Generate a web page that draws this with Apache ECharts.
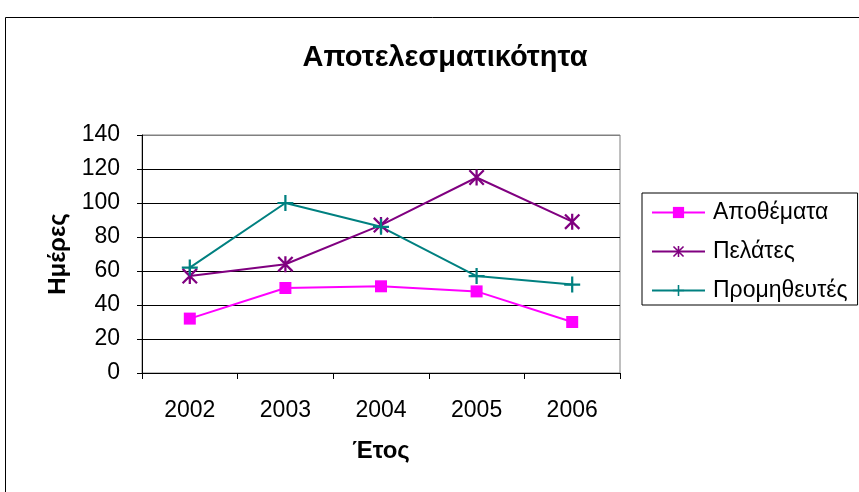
<!DOCTYPE html>
<html>
<head>
<meta charset="utf-8">
<script src="https://cdn.jsdelivr.net/npm/echarts@6/dist/echarts.min.js"></script>
<style>
  html, body { margin: 0; padding: 0; background: #fff; }
  #chart { width: 859px; height: 492px; }
</style>
</head>
<body>
<div id="chart"></div>
<script>
// Years on the category axis
const years = ['2002', '2003', '2004', '2005', '2006'];

// Days per year for each indicator
const inventory = [32, 50, 51, 48, 30];   // Αποθέματα
const customers = [57, 64, 87, 115, 89];  // Πελάτες
const suppliers = [62, 100, 86, 57, 52];  // Προμηθευτές

const seriesNames = ['Αποθέματα', 'Πελάτες', 'Προμηθευτές'];

// Value axis ticks
const yTicks = [0, 20, 40, 60, 80, 100, 120, 140];

const FONT = '"Liberation Sans", Arial, sans-serif';

// Marker shapes drawn as filled paths
const plusPath = 'path://M43,0 L57,0 L57,43 L100,43 L100,57 L57,57 L57,100 L43,100 L43,57 L0,57 L0,43 L43,43 Z';
const starPath = 'path://M43,0 L57,0 L57,100 L43,100 Z M0,10 L10,0 L100,90 L90,100 Z M90,0 L100,10 L10,100 L0,90 Z';

const chart = echarts.init(document.getElementById('chart'), null, { renderer: 'canvas' });

// top grid line sits on the plot frame, which is grey
const splitColors = yTicks.map((v, i) => (i === yTicks.length - 1 ? '#808080' : '#000000'));

chart.setOption({
  animation: false,
  backgroundColor: '#ffffff',
  title: {
    text: 'Αποτελεσματικότητα',
    left: 440,
    textAlign: 'center',
    top: 38,
    textStyle: { fontFamily: FONT, fontSize: 29, fontWeight: 'bold', color: '#000' }
  },
  graphic: [{
    type: 'rect',
    shape: { x: 5.5, y: 17.5, width: 900, height: 500 },
    style: { fill: 'none', stroke: '#000', lineWidth: 1 },
    silent: true,
    z: -1
  }],
  legend: {
    orient: 'vertical',
    left: 642,
    top: 193,
    padding: [8, 10, 3, 9],
    itemGap: 16,
    itemWidth: 53,
    itemHeight: 14,
    borderColor: '#000',
    borderWidth: 1,
    textStyle: { fontFamily: FONT, fontSize: 23, lineHeight: 23, color: '#000', padding: [0, 0, 0, 3] },
    data: seriesNames
  },
  grid: {
    left: 142,
    right: 239,
    top: 135,
    bottom: 119,
    show: true,
    borderColor: '#808080',
    borderWidth: 1,
    containLabel: false
  },
  xAxis: {
    type: 'category',
    data: years,
    boundaryGap: true,
    name: 'Έτος',
    nameLocation: 'middle',
    nameGap: 66,
    nameTextStyle: { fontFamily: FONT, fontSize: 24, fontWeight: 'bold', color: '#000' },
    axisLine: { show: true, lineStyle: { color: '#000', width: 1 } },
    axisTick: { show: true, alignWithLabel: false, length: 6, inside: false, lineStyle: { color: '#000' } },
    axisLabel: { fontFamily: FONT, fontSize: 23, color: '#000', margin: 26 },
    splitLine: { show: false }
  },
  yAxis: {
    type: 'value',
    min: yTicks[0],
    max: yTicks[yTicks.length - 1],
    interval: 20,
    name: 'Ημέρες',
    nameLocation: 'middle',
    nameGap: 72,
    nameRotate: 90,
    nameTextStyle: { fontFamily: FONT, fontSize: 24, fontWeight: 'bold', color: '#000' },
    axisLine: { show: true, lineStyle: { color: '#000', width: 1 } },
    axisTick: { show: true, length: 5, inside: false, lineStyle: { color: '#000' } },
    axisLabel: { fontFamily: FONT, fontSize: 23, color: '#000', margin: 22 },
    splitLine: { show: true, lineStyle: { color: splitColors, width: 1 } }
  },
  series: [
    {
      name: seriesNames[0],
      type: 'line',
      data: inventory,
      symbol: 'rect',
      symbolSize: 12,
      lineStyle: { color: '#ff00ff', width: 2 },
      itemStyle: { color: '#ff00ff' }
    },
    {
      name: seriesNames[1],
      type: 'line',
      data: customers,
      symbol: starPath,
      symbolSize: 16,
      lineStyle: { color: '#800080', width: 2 },
      itemStyle: { color: '#800080' }
    },
    {
      name: seriesNames[2],
      type: 'line',
      data: suppliers,
      symbol: plusPath,
      symbolSize: 16,
      lineStyle: { color: '#008080', width: 2 },
      itemStyle: { color: '#008080' }
    }
  ]
});
</script>
</body>
</html>
